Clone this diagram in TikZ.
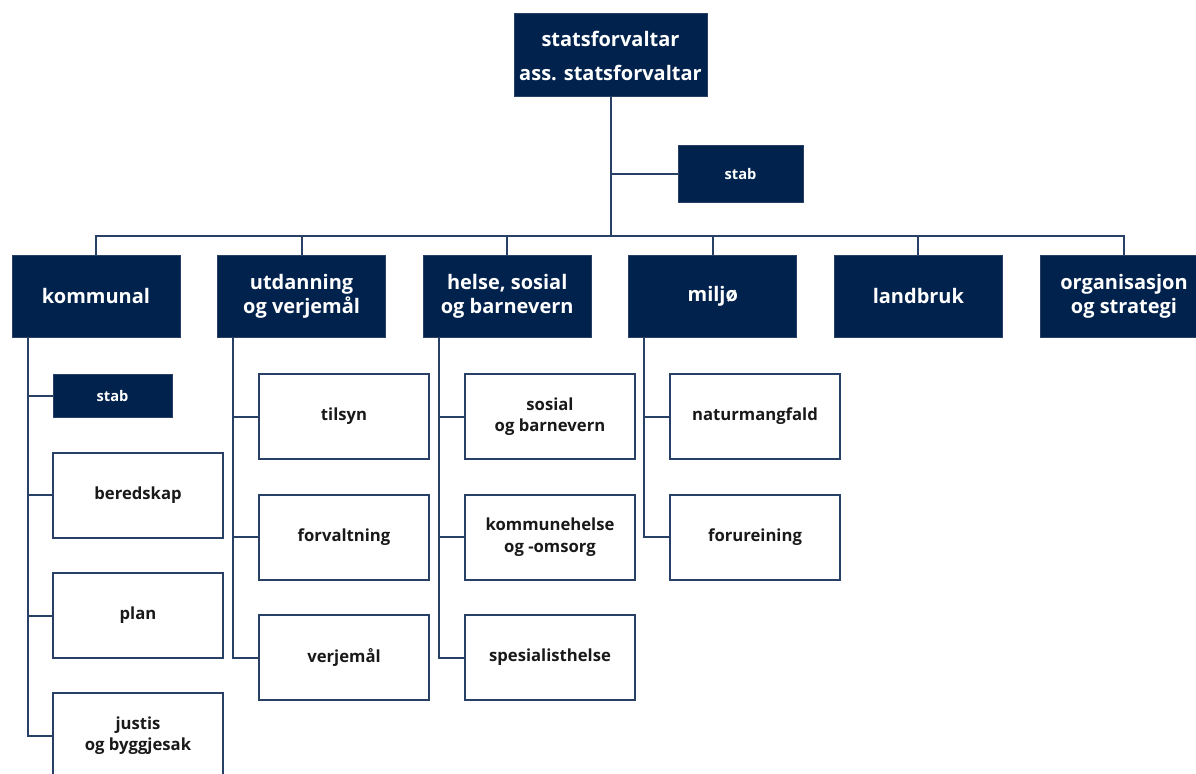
\documentclass[tikz,border=0pt]{standalone}
\usepackage{fontspec}
\setmainfont{Open Sans}
\usetikzlibrary{calc}
\definecolor{navy}{RGB}{0,34,77}
\definecolor{linkcol}{RGB}{40,64,102}
\tikzset{every picture/.style={line width=1.5pt}}
\tikzset{
  leader/.style={fill=navy, draw=linkcol, line width=0.75pt, text=white, align=center, inner sep=0pt,
    font=\bfseries\fontsize{15}{25.5}\selectfont, minimum width=144.75pt, minimum height=62.25pt},
  head/.style={fill=navy, draw=linkcol, line width=0.75pt, text=white, align=center, inner sep=0pt,
    font=\bfseries\fontsize{15}{18}\selectfont, minimum width=126pt, minimum height=61.5pt},
  stabbox/.style={fill=navy, draw=linkcol, line width=0.75pt, text=white, align=center, inner sep=0pt,
    font=\bfseries\fontsize{11}{13}\selectfont},
  unit/.style={fill=white, draw=linkcol, line width=1.5pt, text=black!90, align=center, inner sep=0pt,
    font=\bfseries\fontsize{12.5}{16}\selectfont, minimum width=127.5pt, minimum height=63.75pt},
  link/.style={draw=linkcol, line width=1.5pt}
}

\begin{document}
\begin{tikzpicture}[x=0.75pt,y=0.75pt,yscale=-1,xscale=1]
\clip (0,0) rectangle (1196,774);

%Leader
\node [leader] (top) at (610.5,55.5) {statsforvaltar\\ass. statsforvaltar};
\node [stabbox, minimum width=93.75pt, minimum height=42.75pt] (stab) at (740.5,173.5) {stab};
\coordinate (bus) at (610.5,236);

%Departments
\node [head] (kommunal) at (96,296) {kommunal};
\node [head] (utdanning) at (301.6,296) {utdanning\\og verjemål};
\node [head] (helse) at (507.2,296) {helse, sosial\\og barnevern};
\node [head] (miljo) at (712.8,296) {miljø};
\node [head] (landbruk) at (918.4,296) {landbruk};
\node [head] (organisasjon) at (1124,296) {organisasjon\\og strategi};

%Units under kommunal
\node [stabbox, minimum width=89.25pt, minimum height=32.25pt] (komstab) at (112.5,395.5) {stab};
\node [unit] (beredskap) at (138,495) {beredskap};
\node [unit] (plan) at (138,615.5) {plan};
\node [unit] (justis) at (138,735.5) {justis\\og byggjesak};

%Units under utdanning
\node [unit] (tilsyn) at (344,416.5) {tilsyn};
\node [unit] (forvaltning) at (344,537) {forvaltning};
\node [unit] (verjemaal) at (344,657.5) {verjemål};

%Units under helse
\node [unit] (sosial) at (550,416.5) {sosial\\og barnevern};
\node [unit] (kommunehelse) at (550,537) {kommunehelse\\og -omsorg};
\node [unit] (spesialist) at (550,657.5) {spesialisthelse};

%Units under miljo
\node [unit] (naturmangfald) at (755,416.5) {naturmangfald};
\node [unit] (forureining) at (755,537) {forureining};

%Lines
\draw [link] (top.south) -- (top.south |- bus);
\draw [link] (stab.west) -- (stab.west -| top.south);
\foreach \d in {kommunal,utdanning,helse,miljo,landbruk,organisasjon}
  \draw [link] (\d.north) |- (bus);
\foreach \k in {komstab,beredskap,plan,justis}
  \draw [link] ([xshift=12pt]kommunal.south west) |- (\k.west);
\foreach \k in {tilsyn,forvaltning,verjemaal}
  \draw [link] ([xshift=12pt]utdanning.south west) |- (\k.west);
\foreach \k in {sosial,kommunehelse,spesialist}
  \draw [link] ([xshift=12pt]helse.south west) |- (\k.west);
\foreach \k in {naturmangfald,forureining}
  \draw [link] ([xshift=12pt]miljo.south west) |- (\k.west);

\end{tikzpicture}
\end{document}
